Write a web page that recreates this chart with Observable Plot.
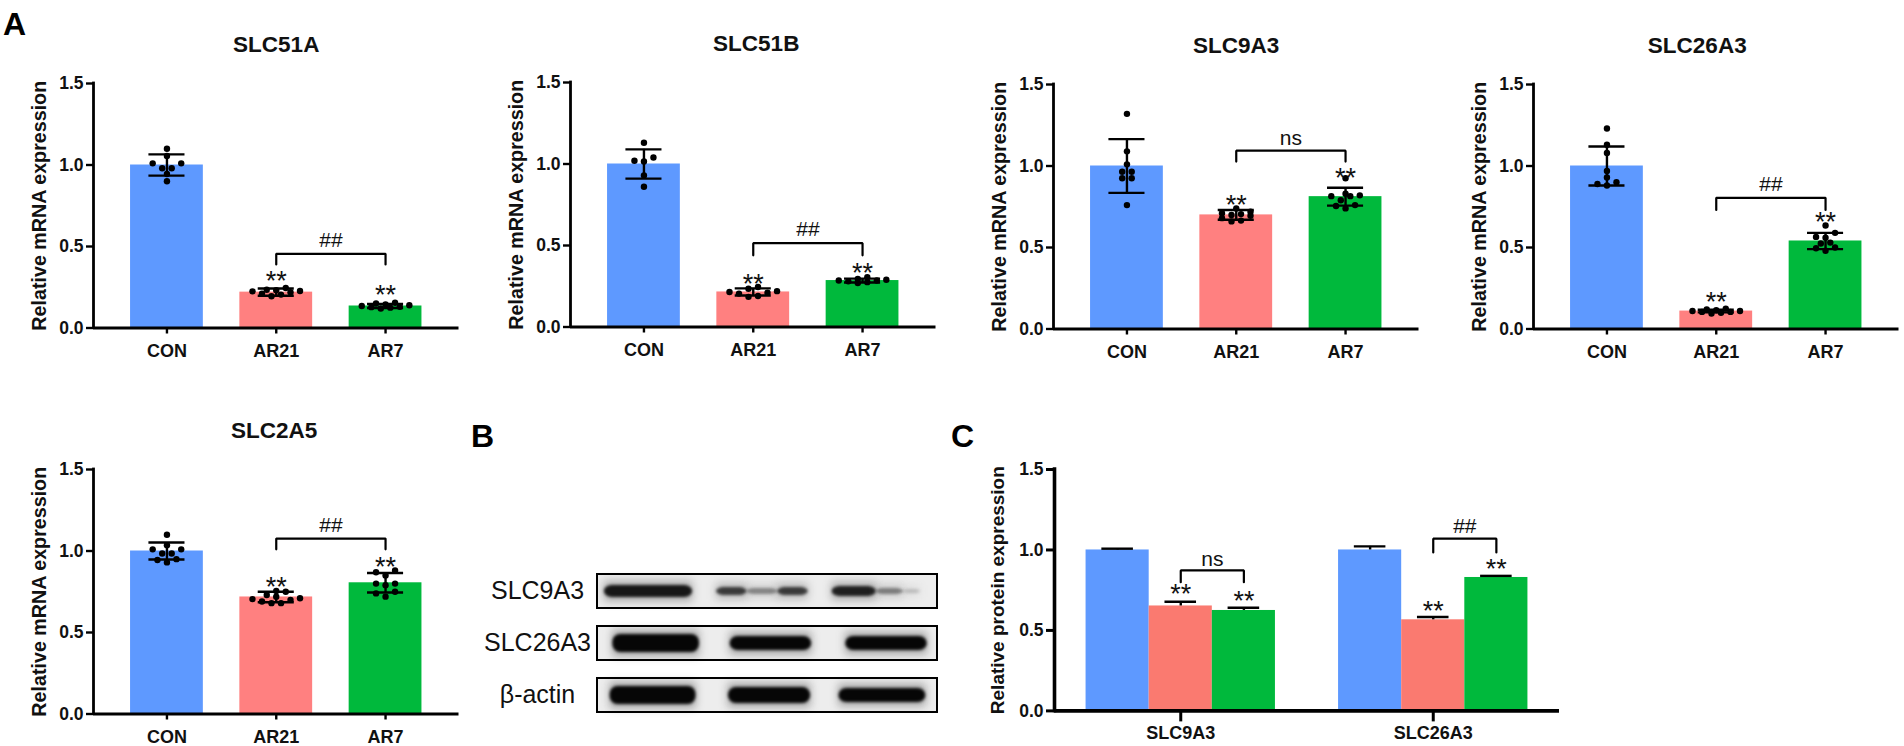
<!DOCTYPE html>
<html>
<head>
<meta charset="utf-8">
<script src="https://cdn.jsdelivr.net/npm/d3@7"></script>
<script src="https://cdn.jsdelivr.net/npm/@observablehq/plot@0.6"></script>
<style>
html,body{margin:0;padding:0;background:#fff;}
#page{position:relative;width:1904px;height:746px;overflow:hidden;font-family:"Liberation Sans",Arial,sans-serif;}
#page svg{position:absolute;overflow:visible;background:transparent;}
.letter{position:absolute;font-weight:bold;font-size:32px;line-height:32px;color:#000;}
.soft{filter:blur(1.6px);}
.halo{filter:blur(4px);}
</style>
</head>
<body>
<div id="page"></div>
<script>
// ---------- data ----------
const groups = ["CON", "AR21", "AR7"];
const yTicks = [0, 0.5, 1, 1.5];

const slc51aMeans = [1, 0.22, 0.135];
const slc51aSds = [0.065, 0.022, 0.012];
const slc51aCon = [1.10, 1.055, 1.01, 1.01, 0.98, 0.98, 0.945, 0.90];
const slc51aAr21 = [0.245, 0.235, 0.232, 0.227, 0.225, 0.22, 0.21, 0.205, 0.195];
const slc51aAr7 = [0.155, 0.15, 0.145, 0.14, 0.135, 0.13, 0.128, 0.125, 0.12];
const slc51aStars = [0.318, 0.23];
const slc51aBracket = [0.455, 0.39, 0.39, 0.537];

const slc51bMeans = [1, 0.215, 0.285];
const slc51bSds = [0.09, 0.022, 0.012];
const slc51bCon = [1.13, 1.04, 1.02, 1.015, 0.93, 0.86];
const slc51bAr21 = [0.245, 0.235, 0.22, 0.215, 0.21, 0.205, 0.19, 0.185];
const slc51bAr7 = [0.305, 0.295, 0.29, 0.285, 0.285, 0.28, 0.275, 0.27];
const slc51bStars = [0.29, 0.36];
const slc51bBracket = [0.514, 0.44, 0.44, 0.60];

const slc9a3Means = [1, 0.70, 0.812];
const slc9a3Sds = [0.165, 0.03, 0.055];
const slc9a3Con = [1.32, 1.09, 1.01, 0.965, 0.965, 0.925, 0.925, 0.76];
const slc9a3Ar21 = [0.74, 0.72, 0.71, 0.705, 0.70, 0.695, 0.68, 0.665, 0.66];
const slc9a3Ar7 = [0.925, 0.83, 0.82, 0.815, 0.815, 0.79, 0.76, 0.755, 0.74];
const slc9a3Stars = [0.79, 0.957];
const slc9a3Bracket = [1.094, 1.027, 1.027, 1.17];

const slc26a3Means = [1, 0.11, 0.54];
const slc26a3Sds = [0.12, 0.008, 0.05];
const slc26a3Con = [1.23, 1.13, 1.08, 0.97, 0.93, 0.90, 0.89, 0.88];
const slc26a3Ar21 = [0.125, 0.12, 0.115, 0.11, 0.11, 0.105, 0.105, 0.10, 0.095];
const slc26a3Ar7 = [0.635, 0.59, 0.565, 0.56, 0.53, 0.525, 0.50, 0.495, 0.48];
const slc26a3Stars = [0.196, 0.687];
const slc26a3Bracket = [0.805, 0.73, 0.73, 0.89];

const slc2a5Means = [1, 0.718, 0.805];
const slc2a5Sds = [0.052, 0.032, 0.06];
const slc2a5Con = [1.10, 1.035, 1.01, 1.01, 0.985, 0.985, 0.95, 0.945, 0.93];
const slc2a5Ar21 = [0.755, 0.75, 0.73, 0.72, 0.71, 0.705, 0.70, 0.69, 0.68, 0.68];
const slc2a5Ar7 = [0.88, 0.87, 0.85, 0.80, 0.80, 0.79, 0.75, 0.74, 0.72];
const slc2a5Stars = [0.81, 0.93];
const slc2a5Bracket = [1.076, 1.01, 1.01, 1.16];

const proteinGenes = ["SLC9A3", "SLC26A3"];
const proteinMeans = [1, 0.652, 0.624, 1, 0.566, 0.829];
const proteinErrors = [0.008, 0.026, 0.017, 0.022, 0.017, 0.01];
const proteinSlots = [0, 1, 2, 4, 5, 6];
const proteinStars = [0.753, 0.709, 0.65, 0.908];
const proteinBracketNs = [0.873, 0.80, 0.80, 0.945];
const proteinBracketHash = [1.07, 0.985, 0.985, 1.145];

const blotRows = ["SLC9A3", "SLC26A3", "β-actin"];
// lane start %, lane end %, darkness, band inset
const blotBandsA = [[2, 28, 0.9, 11], [35, 44, 0.72, 13], [44, 53, 0.38, 14], [53, 62, 0.72, 13], [69, 82, 0.85, 12], [82, 90, 0.42, 14], [90, 95, 0.18, 15]];
const blotBandsB = [[4.5, 30, 1, 8], [39, 63, 1, 10], [73, 97, 1, 10]];
const blotBandsC = [[3.7, 29, 1, 8], [38.5, 62.7, 1, 9], [71, 96.6, 1, 10]];

// ---------- styles ----------
const font = '"Liberation Sans", Arial, sans-serif';
const barColors = ["#5E99FF", "#FF8080", "#00B93C"];
const proteinColors = ["#5E99FF", "#FA7A70", "#00B93C"];
const page = document.getElementById("page");

function place(svg, left, top) {
  svg.style.left = left + "px";
  svg.style.top = top + "px";
  page.appendChild(svg);
}

// Prism-like scatter: values of nearly equal height share a row, centred on the bar,
// lowest values nearest the centre.
function swarm(values, group, spacing) {
  const sorted = [...values].sort(d3.ascending);
  const rows = [];
  for (const v of sorted) {
    const row = rows[rows.length - 1];
    if (row && v - row[0] <= 0.035 && row.length < 6) row.push(v); else rows.push([v]);
  }
  return rows.flatMap(row => {
    const slots = d3.range(row.length).map(i => (i - (row.length - 1) / 2) * spacing)
      .sort((a, b) => Math.abs(a) - Math.abs(b));
    return row.map((v, i) => ({x: group + slots[i], y: v}));
  });
}

function bracket(a, b, [top, footL, footR]) {
  return [{x: a, y: footL}, {x: a, y: top}, {x: b, y: top}, {x: b, y: footR}];
}

function notes(stars, xs, br, a, b, label) {
  return [
    Plot.line(bracket(a, b, br), {x: "x", y: "y", stroke: "#000", strokeWidth: 2.2, strokeLinejoin: "miter"}),
    Plot.text([label], {x: [(a + b) / 2], y: [br[3]], text: d => d, fontSize: 21, fill: "#111", fontFamily: font}),
    Plot.text(stars, {x: xs, y: d => d, text: () => "**", fontSize: 27, dy: 5, fill: "#111", fontFamily: font})
  ];
}

function mrnaPanel(opts) {
  const {title, means, sds, points, stars, br, label, axisX, top, titleShift = 0} = opts;
  const rows = means.map((m, i) => ({i, m, sd: sds[i]}));
  const dots = points.flatMap((vals, i) => swarm(vals, i, 0.087));
  const svg = Plot.plot({
    width: 445.5, height: 339.5,
    marginLeft: 70, marginRight: 10, marginTop: 60, marginBottom: 35,
    style: {fontFamily: font, background: "transparent"},
    x: {domain: [-0.672, 2.672], axis: null},
    y: {domain: [0, 1.5], axis: null},
    marks: [
      Plot.rectY(rows, {x1: d => d.i - 0.333, x2: d => d.i + 0.333, y1: 0, y2: "m", fill: d => barColors[d.i]}),
      Plot.ruleX(rows, {x: "i", y1: d => d.m - d.sd, y2: d => d.m + d.sd, stroke: "#000", strokeWidth: 2.4}),
      Plot.ruleY(rows, {y: d => d.m + d.sd, x1: d => d.i - 0.165, x2: d => d.i + 0.165, stroke: "#000", strokeWidth: 2.4}),
      Plot.ruleY(rows, {y: d => d.m - d.sd, x1: d => d.i - 0.165, x2: d => d.i + 0.165, stroke: "#000", strokeWidth: 2.4}),
      Plot.dot(dots, {x: "x", y: "y", r: 3.2, fill: "#000"}),
      ...notes(stars, [1, 2], br, 1, 2, label),
      Plot.ruleY([0], {x1: -0.672, x2: 2.672, stroke: "#000", strokeWidth: 2.8}),
      Plot.ruleX([-0.672], {y1: 0, y2: 1.5, stroke: "#000", strokeWidth: 2.8, strokeLinecap: "square"}),
      Plot.axisY({ticks: yTicks, tickSize: 7, tickPadding: 3, tickFormat: d3.format(".1f"), label: null, fontSize: 17.5, fontWeight: "bold", strokeWidth: 2.4, stroke: "#000", fill: "#111", fontFamily: font}),
      Plot.axisX({ticks: [0, 1, 2], tickSize: 6, tickPadding: 10, tickFormat: d => groups[d], label: null, fontSize: 18, fontWeight: "bold", strokeWidth: 2.4, stroke: "#000", fill: "#111", fontFamily: font}),
      Plot.text(["Relative mRNA expression"], {text: d => d, frameAnchor: "left", textAnchor: "middle", rotate: -90, dx: -54, fontSize: 19.7, fontWeight: "bold", fill: "#111", fontFamily: font}),
      Plot.text([title], {text: d => d, frameAnchor: "top", dy: -47, dx: titleShift, fontSize: 22.5, fontWeight: "bold", fill: "#111", fontFamily: font})
    ]
  });
  place(svg, axisX - 70, top - 60);
}

mrnaPanel({title: "SLC51A", means: slc51aMeans, sds: slc51aSds, points: [slc51aCon, slc51aAr21, slc51aAr7], stars: slc51aStars, br: slc51aBracket, label: "##", axisX: 93, top: 83});
mrnaPanel({title: "SLC51B", means: slc51bMeans, sds: slc51bSds, points: [slc51bCon, slc51bAr21, slc51bAr7], stars: slc51bStars, br: slc51bBracket, label: "##", axisX: 570, top: 82, titleShift: 3});
mrnaPanel({title: "SLC9A3", means: slc9a3Means, sds: slc9a3Sds, points: [slc9a3Con, slc9a3Ar21, slc9a3Ar7], stars: slc9a3Stars, br: slc9a3Bracket, label: "ns", axisX: 1053, top: 84});
mrnaPanel({title: "SLC26A3", means: slc26a3Means, sds: slc26a3Sds, points: [slc26a3Con, slc26a3Ar21, slc26a3Ar7], stars: slc26a3Stars, br: slc26a3Bracket, label: "##", axisX: 1533, top: 84, titleShift: -19});
mrnaPanel({title: "SLC2A5", means: slc2a5Means, sds: slc2a5Sds, points: [slc2a5Con, slc2a5Ar21, slc2a5Ar7], stars: slc2a5Stars, br: slc2a5Bracket, label: "##", axisX: 92.5, top: 468.7, titleShift: -2});

// ---------- western blot ----------
(function () {
  const rowBands = [blotBandsA, blotBandsB, blotBandsC];
  const bandMarks = rowBands.flatMap((bands, r) => bands.flatMap(([a, b, o, inset]) => {
    const data = [{row: blotRows[r], a, b, o}];
    return [
      Plot.barX(data, {x1: "a", x2: "b", y: "row", fill: "#333", fillOpacity: d => d.o * 0.4, insetTop: inset - 4, insetBottom: inset - 4, className: "halo"}),
      Plot.barX(data, {x1: "a", x2: "b", y: "row", fill: "#060606", fillOpacity: "o", insetTop: inset, insetBottom: inset, rx: 8, className: "soft"})
    ];
  }));
  const svg = Plot.plot({
    width: 440, height: 138.3,
    marginLeft: 100, marginRight: 0, marginTop: 0, marginBottom: 0,
    style: {fontFamily: font, background: "transparent"},
    x: {domain: [0, 100], axis: null},
    y: {domain: blotRows, axis: null, paddingInner: 0.35, paddingOuter: 0},
    marks: [
      Plot.barX(blotRows, {x1: 0, x2: 100, y: d => d, fill: "#EDEDED"}),
      ...bandMarks,
      Plot.barX(blotRows, {x1: 0, x2: 100, y: d => d, fill: "none", stroke: "#000", strokeWidth: 2}),
      Plot.text(blotRows, {y: d => d, text: d => d, frameAnchor: "left", dx: -60, textAnchor: "middle", fontSize: 25, fill: "#111", fontFamily: font})
    ]
  });
  place(svg, 497, 574);
})();

// ---------- protein expression ----------
(function () {
  const rows = proteinSlots.map((s, i) => ({s, m: proteinMeans[i], e: proteinErrors[i], c: proteinColors[i % 3]}));
  const svg = Plot.plot({
    width: 585, height: 336.4,
    marginLeft: 70, marginRight: 10, marginTop: 60, marginBottom: 35,
    style: {fontFamily: font, background: "transparent"},
    x: {domain: [-1, 7], axis: null},
    y: {domain: [0, 1.5], axis: null},
    marks: [
      Plot.rectY(rows, {x1: d => d.s - 0.5, x2: d => d.s + 0.5, y1: 0, y2: "m", fill: "c"}),
      Plot.ruleX(rows, {x: "s", y1: "m", y2: d => d.m + d.e, stroke: "#000", strokeWidth: 2.4}),
      Plot.ruleY(rows, {y: d => d.m + d.e, x1: d => d.s - 0.25, x2: d => d.s + 0.25, stroke: "#000", strokeWidth: 2.4}),
      ...notes(proteinStars.slice(0, 2), [1, 2], proteinBracketNs, 1, 2, "ns"),
      ...notes(proteinStars.slice(2), [5, 6], proteinBracketHash, 5, 6, "##"),
      Plot.ruleY([0], {x1: -1, x2: 7, stroke: "#000", strokeWidth: 3.6}),
      Plot.ruleX([-1], {y1: 0, y2: 1.5, stroke: "#000", strokeWidth: 3.6, strokeLinecap: "square"}),
      Plot.axisY({ticks: yTicks, tickSize: 8, tickPadding: 3, tickFormat: d3.format(".1f"), label: null, fontSize: 17.5, fontWeight: "bold", strokeWidth: 3, stroke: "#000", fill: "#111", fontFamily: font}),
      Plot.axisX({ticks: [1, 5], tickSize: 11, tickPadding: 4, tickFormat: d => proteinGenes[(d - 1) / 4], label: null, fontSize: 18, fontWeight: "bold", strokeWidth: 3, stroke: "#000", fill: "#111", fontFamily: font}),
      Plot.text(["Relative protein expression"], {text: d => d, frameAnchor: "left", textAnchor: "middle", rotate: -90, dx: -57, fontSize: 19, fontWeight: "bold", fill: "#111", fontFamily: font})
    ]
  });
  place(svg, 1054 - 70, 469.4 - 60);
})();

// ---------- panel letters ----------
[["A", 3, 8], ["B", 471, 420], ["C", 951, 420]].forEach(([t, l, tp]) => {
  const d = document.createElement("div");
  d.className = "letter";
  d.textContent = t;
  d.style.left = l + "px";
  d.style.top = tp + "px";
  page.appendChild(d);
});
</script>
</body>
</html>
